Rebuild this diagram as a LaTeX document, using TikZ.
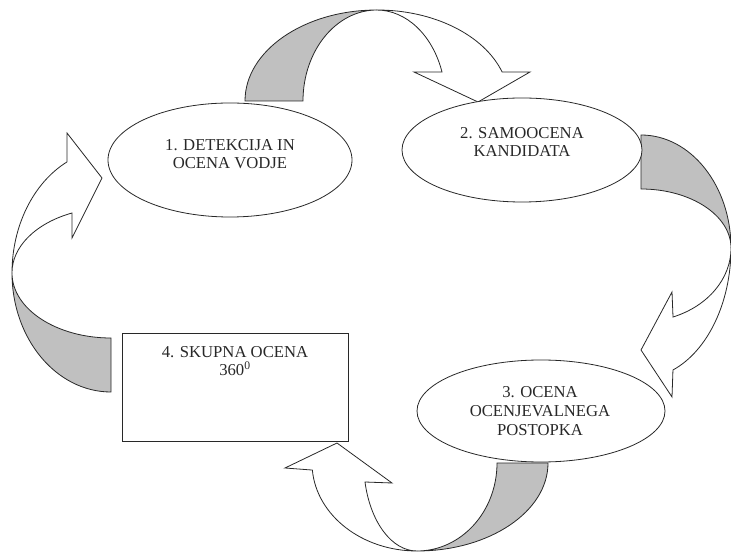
\documentclass[tikz,border=0pt]{standalone}
\usepackage{fontspec}
\setmainfont{Liberation Serif}
\usetikzlibrary{positioning}
\usetikzlibrary{shapes.geometric}
\usepackage{xcolor}
\definecolor{band}{RGB}{192,192,192}
\definecolor{ink}{RGB}{40,40,40}

\begin{document}
\begin{tikzpicture}[x=0.75pt, y=-0.75pt, line width=0.6pt, draw=ink,
    o/.style={ellipse, draw=ink, fill=white, inner sep=0pt},
    r/.style={rectangle, draw=ink, fill=white, inner sep=0pt},
    t/.style={align=center, text=ink, inner sep=0pt, font=\fontsize{12.5}{14}\selectfont},
    g/.style={draw=ink, fill=band},
    w/.style={draw=ink, fill=white}]
            \useasboundingbox (0,0) rectangle (731,555);

            \filldraw[g] (245,101) arc[start angle=180, end angle=270, x radius=132, y radius=91]
              arc[start angle=270, end angle=180, x radius=74, y radius=91] -- cycle;
            \filldraw[w] (377,10) arc[start angle=270, end angle=341.4, x radius=132, y radius=91]
              -- (530,72) -- (478,102) -- (414,72) -- (442,72)
              arc[start angle=341.4, end angle=270, x radius=69, y radius=91] -- cycle;

            \filldraw[g] (641,135) arc[start angle=270, end angle=360, x radius=90, y radius=113]
              arc[start angle=0, end angle=-90, x radius=90, y radius=59] -- cycle;
            \filldraw[w] (731,248) arc[start angle=0, end angle=69.2, x radius=90, y radius=130.5]
              -- (672,397) -- (641,350) -- (672,292) -- (673,317)
              arc[start angle=69.2, end angle=0, x radius=90, y radius=73.8] -- cycle;

            \filldraw[g] (548,463) arc[start angle=0, end angle=90, x radius=131, y radius=88]
              arc[start angle=90, end angle=0, x radius=80, y radius=88] -- cycle;
            \filldraw[w] (417,551) arc[start angle=90, end angle=175.4, x radius=105, y radius=88]
              -- (285,468) -- (337,443) -- (392,483) -- (365,482)
              arc[start angle=167.5, end angle=90, x radius=53, y radius=88] -- cycle;

            \filldraw[g] (111,392) arc[start angle=90, end angle=180, x radius=99, y radius=119]
              arc[start angle=180, end angle=90, x radius=99, y radius=65] -- cycle;
            \filldraw[w] (12,273) arc[start angle=180, end angle=243.6, x radius=99, y radius=124]
              -- (67,133) -- (102,178) -- (72,238) -- (72,213)
              arc[start angle=246.8, end angle=180, x radius=99, y radius=65] -- cycle;

            \node[o, minimum width=183pt, minimum height=85.5pt] (e1) at (230,160) {};
            \node[o, minimum width=180pt, minimum height=78pt] (e2) at (522,150) {};
            \node[o, minimum width=186pt, minimum height=76.5pt] (e3) at (541,411) {};
            \node[r, minimum width=169.5pt, minimum height=81pt] (b4) at (235,387) {};

            \node[t] (t1) at (230,154) {1. DETEKCIJA IN\\OCENA VODJE};
            \node[t] (t2) at (522,142) {2. SAMOOCENA\\KANDIDATA};
            \node[t] (t3) at (540,411) {3. OCENA\\OCENJEVALNEGA\\POSTOPKA};
            \node[t] (t4) at (235,361) {4. SKUPNA OCENA\\360\textsuperscript{0}};
        \end{tikzpicture}
\end{document}
